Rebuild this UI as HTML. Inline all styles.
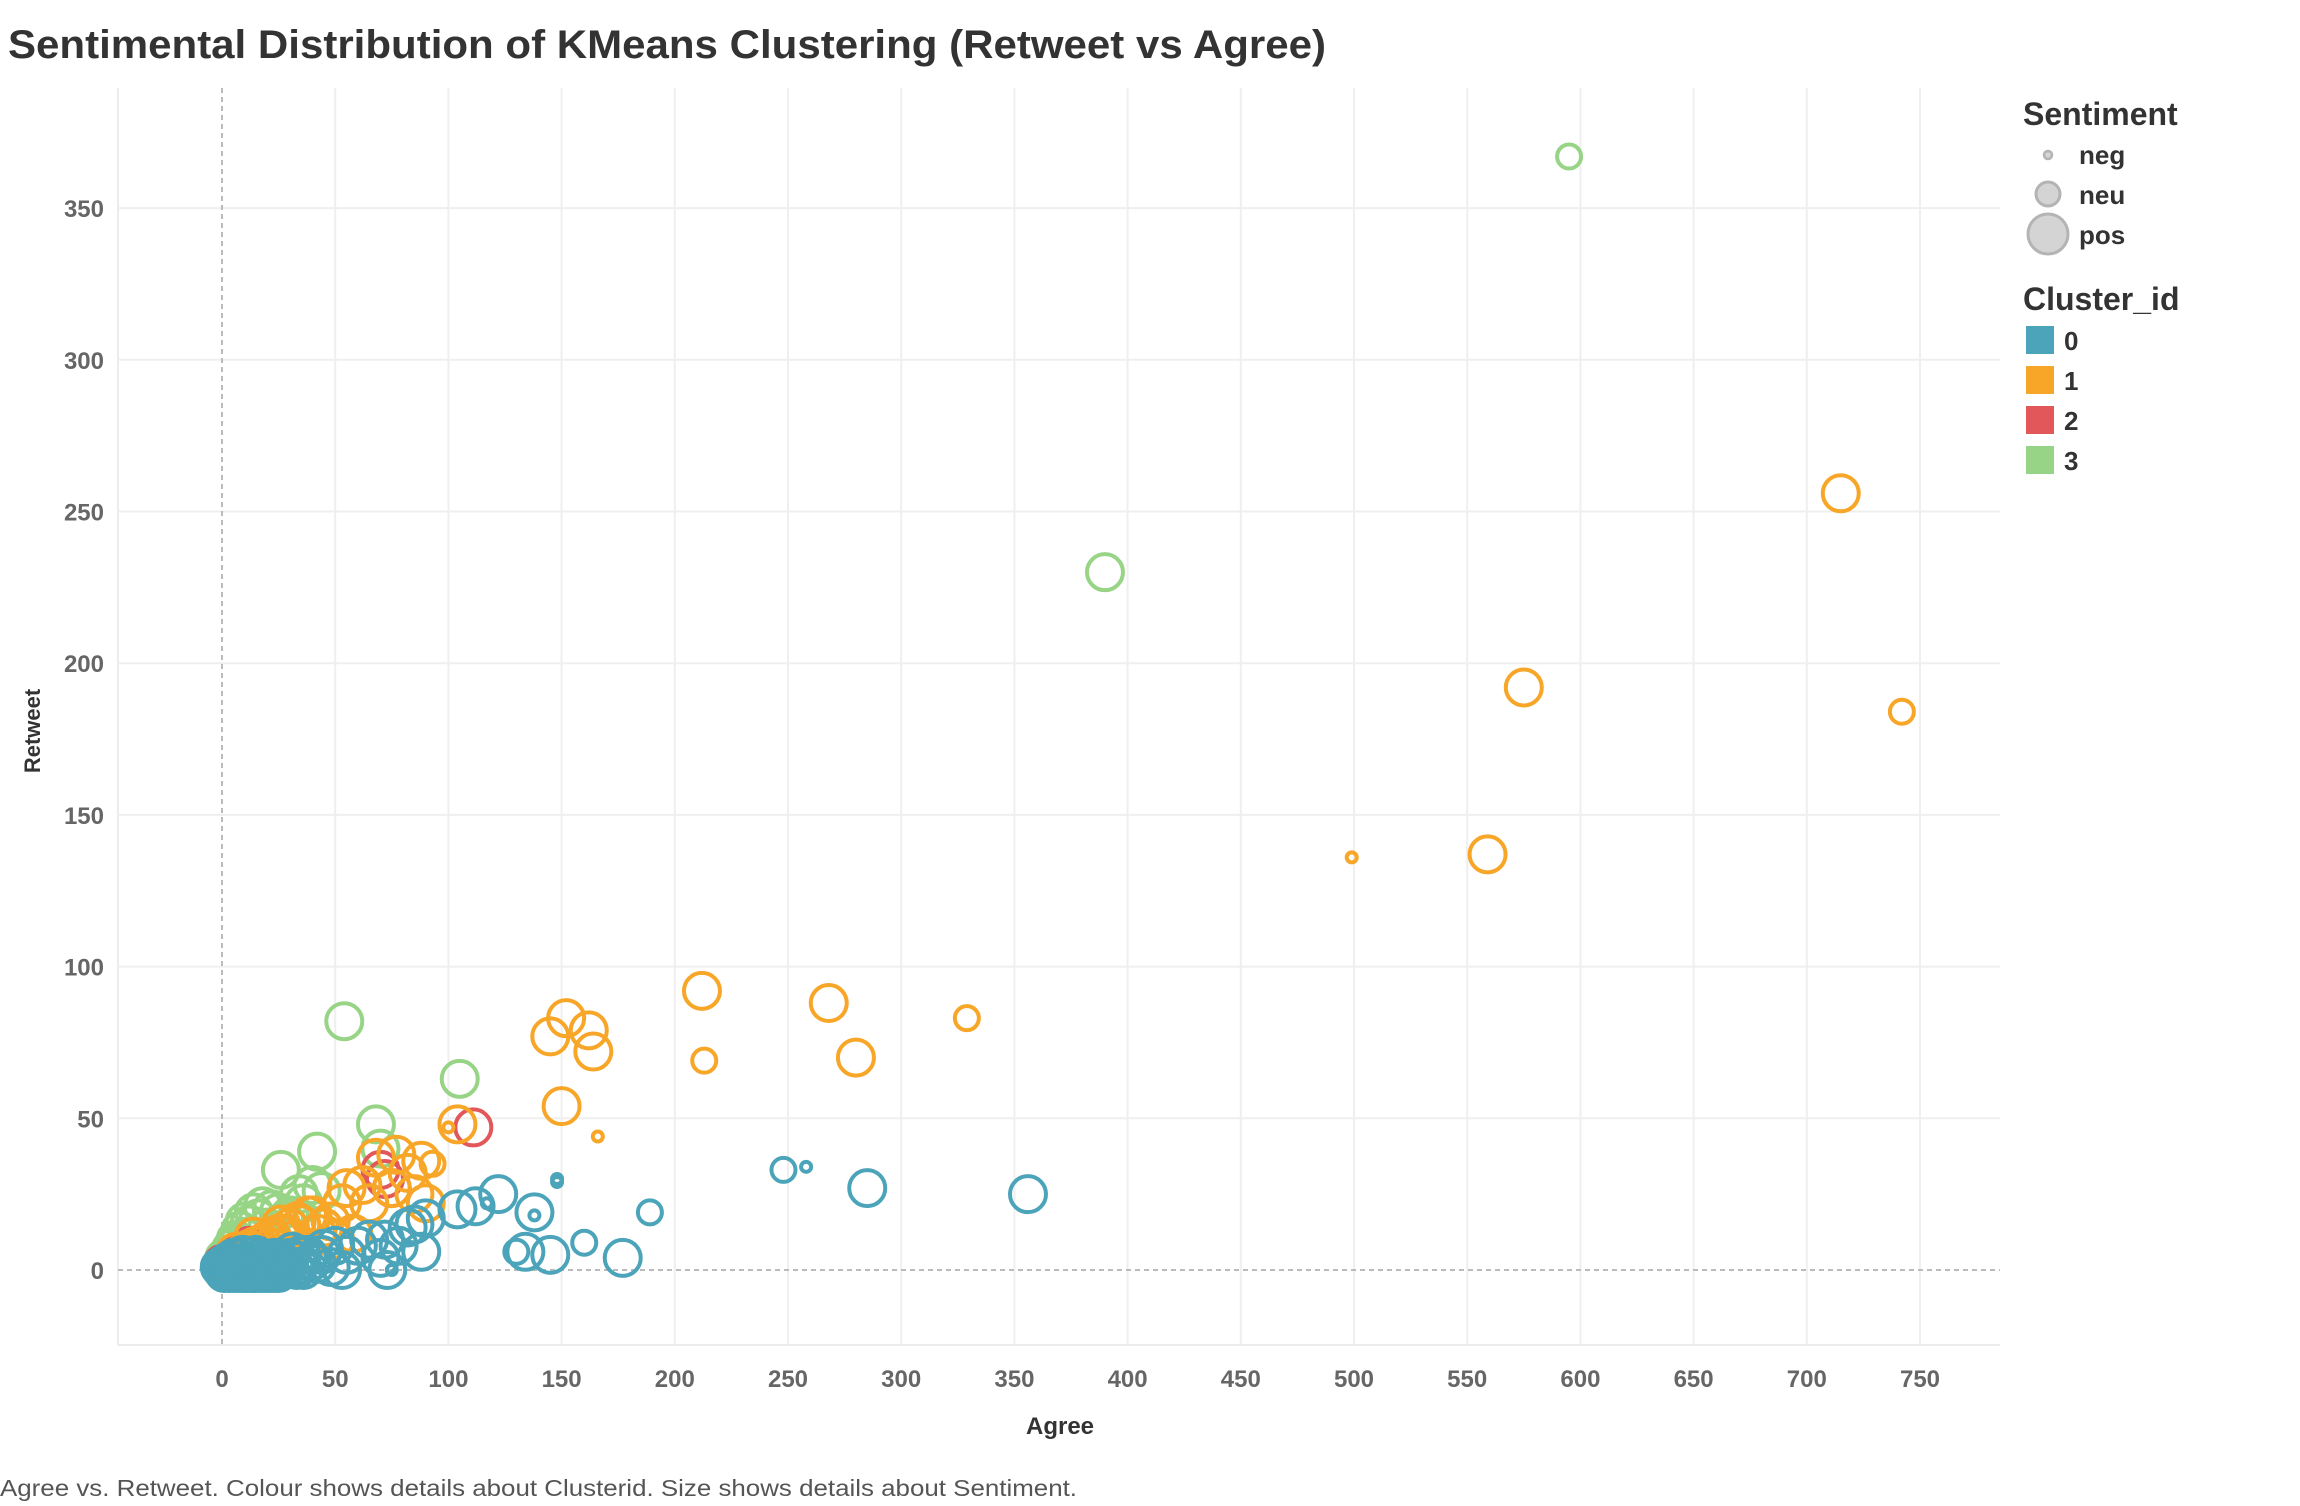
<!DOCTYPE html>
<html><head><meta charset="utf-8">
<style>
html,body{margin:0;padding:0;background:#fff;}
body{width:2300px;height:1506px;overflow:hidden;font-family:"Liberation Sans",sans-serif;}
svg{display:block}
</style></head>
<body>
<svg id="chart" width="2300" height="1506" viewBox="0 0 2300 1506">
<text x="8" y="58" font-size="40" font-weight="bold" fill="#333" textLength="1318" lengthAdjust="spacingAndGlyphs">Sentimental Distribution of KMeans Clustering (Retweet vs Agree)</text>
<g id="grid"></g>
<g id="marks"></g>
<g id="axes"></g>
<text x="1060" y="1434" font-size="24" font-weight="bold" fill="#333" text-anchor="middle">Agree</text>
<text x="0" y="0" font-size="22" font-weight="bold" fill="#333" text-anchor="middle" transform="translate(40,731) rotate(-90)">Retweet</text>
<text x="0" y="1496" font-size="23" fill="#555" textLength="1077" lengthAdjust="spacingAndGlyphs">Agree vs. Retweet.  Colour shows details about Clusterid.  Size shows details about Sentiment.</text>
<g>
<text x="2023" y="125" font-size="32" font-weight="bold" fill="#333">Sentiment</text>
<circle cx="2048" cy="155" r="4" fill="#d4d4d4" stroke="#b4b4b4" stroke-width="2.5"/>
<text x="2079" y="164" font-size="26" font-weight="bold" fill="#333">neg</text>
<circle cx="2048" cy="194" r="12" fill="#d4d4d4" stroke="#b4b4b4" stroke-width="3"/>
<text x="2079" y="204" font-size="26" font-weight="bold" fill="#333">neu</text>
<circle cx="2048" cy="234" r="20" fill="#d4d4d4" stroke="#b4b4b4" stroke-width="3"/>
<text x="2079" y="244" font-size="26" font-weight="bold" fill="#333">pos</text>
</g>
<g>
<text x="2023" y="310" font-size="32" font-weight="bold" fill="#333">Cluster_id</text>
<rect x="2026" y="326" width="28" height="28" fill="#4ba4b9"/>
<text x="2064" y="350" font-size="26" font-weight="bold" fill="#333">0</text>
<rect x="2026" y="366" width="28" height="28" fill="#f8a628"/>
<text x="2064" y="390" font-size="26" font-weight="bold" fill="#333">1</text>
<rect x="2026" y="406" width="28" height="28" fill="#e1575a"/>
<text x="2064" y="430" font-size="26" font-weight="bold" fill="#333">2</text>
<rect x="2026" y="446" width="28" height="28" fill="#97d486"/>
<text x="2064" y="470" font-size="26" font-weight="bold" fill="#333">3</text>
</g>
</svg>
<script>
const xTicks = [0,50,100,150,200,250,300,350,400,450,500,550,600,650,700,750];
const yTicks = [0,50,100,150,200,250,300,350];

const agree3 = [595,390,54,105,68,70,42,26,40,44,18,10,14,22,30,36,6,3,8,12,16,20,25,2,5,34,28,1,4,7,11];
const retweet3 = [367,230,82,63,48,40,39,33,28,26,21,16,19,20,18,22,10,5,13,15,17,14,19,3,8,25,16,4,7,9,11];
const sent3 = ['neu','pos','pos','pos','pos','pos','pos','pos','pos','pos','pos','pos','pos','pos','pos','pos','pos','pos','pos','pos','pos','pos','pos','pos','pos','pos','pos','pos','pos','pos','pos'];

const agree2 = [111,72,75,3,6,9,2,12,70,0,5];
const retweet2 = [47,30,27,3,5,6,1,8,33,2,4];
const sent2 = ['pos','pos','pos','pos','pos','pos','pos','pos','pos','pos','pos'];

const agree1 = [715,575,742,499,559,212,268,329,280,213,152,162,145,164,150,166,104,100,68,77,88,93,82,55,62,75,65,90,85,53,40,35,30,25,20,15,10,5,48,45,58,33,28,38,22,18,12,8,3,42,50,26,32,14,6];
const retweet1 = [256,192,184,136,137,92,88,83,70,69,83,79,77,72,54,44,48,47,37,38,36,35,32,27,28,27,22,22,25,22,18,15,14,12,10,8,6,4,16,14,12,16,12,18,11,9,7,5,2,12,10,15,10,11,6];
const sent1 = ['pos','pos','neu','neg','pos','pos','pos','neu','pos','neu','pos','pos','pos','pos','pos','neg','pos','neg','pos','pos','pos','neu','pos','pos','pos','pos','pos','pos','pos','pos','pos','pos','pos','pos','pos','pos','pos','pos','pos','pos','pos','pos','pos','pos','pos','pos','pos','pos','pos','pos','pos','pos','pos','pos','pos'];

const agree0 = [356,285,248,258,148,148,189,177,160,145,134,130,138,138,122,112,117,104,88,85,90,82,73,75,70,72,60,53,45,42,35,0,2,4,6,8,10,12,14,16,18,20,22,24,26,28,30,32,34,36,38,3,7,11,15,19,23,27,31,1,5,9,13,17,21,25,29,33,40,44,48,50,55,65,78,-1,1,3,5,7,9,11,13,15,17,19,21,23,25,2,6,10,14,18,22];
const retweet0 = [25,27,33,34,30,29,19,4,9,5,6,6,19,18,25,21,22,20,6,15,17,14,0,0,4,10,8,0,7,2,5,0,1,0,2,1,0,3,1,0,2,0,1,3,0,2,4,1,3,0,5,3,4,2,5,3,4,2,6,2,4,5,3,4,2,4,1,0,3,5,1,8,5,10,8,1,-1,-1,-1,-1,-1,-1,-1,-1,-1,-1,-1,-1,-1,2,3,2,3,2,3];
const sent0 = ['pos','pos','neu','neg','neg','neg','neu','pos','neu','pos','pos','neu','pos','neg','pos','pos','neg','pos','pos','pos','pos','pos','pos','neg','pos','pos','pos','pos','pos','pos','pos','pos','pos','pos','pos','pos','pos','pos','pos','pos','pos','pos','pos','pos','pos','pos','pos','pos','pos','pos','pos','pos','pos','pos','pos','pos','pos','pos','pos','pos','pos','pos','pos','pos','pos','pos','pos','pos','pos','pos','pos','pos','pos','pos','pos','pos','pos','pos','pos','pos','pos','pos','pos','pos','pos','pos','pos','pos','pos','neu','neu','neu','neu','neu','neu'];

const NS='http://www.w3.org/2000/svg';
const L=118,R=2000,T=88,B=1345;
function xScale(v){return 222+v*(113.2/50);}
function yScale(v){return 1270-v*(151.7/50);}
const radius={neg:5,neu:12,pos:18};
const colors=['#4ba4b9','#f8a628','#e1575a','#97d486'];
function mk(tag,attrs,parent){const e=document.createElementNS(NS,tag);for(const k in attrs)e.setAttribute(k,attrs[k]);parent.appendChild(e);return e;}
const grid=document.getElementById('grid'),axes=document.getElementById('axes'),marks=document.getElementById('marks');
mk('line',{x1:L,y1:T,x2:L,y2:B,stroke:'#ececec','stroke-width':2},grid);
mk('line',{x1:L,y1:B,x2:R,y2:B,stroke:'#ececec','stroke-width':2},grid);
xTicks.forEach(t=>{
  const x=xScale(t);
  if(t>0){const g=mk('line',{x1:x,y1:T,x2:x,y2:B,stroke:'#efefef','stroke-width':2},grid);
  
  }
  const tx=mk('text',{x:x,y:1387,'font-size':24,'font-weight':'bold',fill:'#666','text-anchor':'middle'},axes);
  tx.textContent=t;
  
  
});
yTicks.forEach(t=>{
  const y=yScale(t);
  if(t>0){const g=mk('line',{x1:L,y1:y,x2:R,y2:y,stroke:'#efefef','stroke-width':2},grid);
  
  }
  const tx=mk('text',{x:104,y:y+9,'font-size':24,'font-weight':'bold',fill:'#666','text-anchor':'end'},axes);
  tx.textContent=t;
  
  
});
const zx=mk('line',{x1:xScale(0),y1:T,x2:xScale(0),y2:B,stroke:'#bbb','stroke-width':2,'stroke-dasharray':'5,4'},grid);


const zy=mk('line',{x1:L,y1:yScale(0),x2:R,y2:yScale(0),stroke:'#bbb','stroke-width':2,'stroke-dasharray':'5,4'},grid);


const sets=[[agree3,retweet3,sent3,3],[agree2,retweet2,sent2,2],[agree1,retweet1,sent1,1],[agree0,retweet0,sent0,0]];
sets.forEach(([a,r,s,c])=>{
  for(let i=0;i<a.length;i++){
    const el=mk('circle',{cx:xScale(a[i]),cy:yScale(r[i]),r:radius[s[i]],fill:'none',stroke:colors[c],'stroke-width':4},marks);
    
    
  }
});
</script>
</body></html>
